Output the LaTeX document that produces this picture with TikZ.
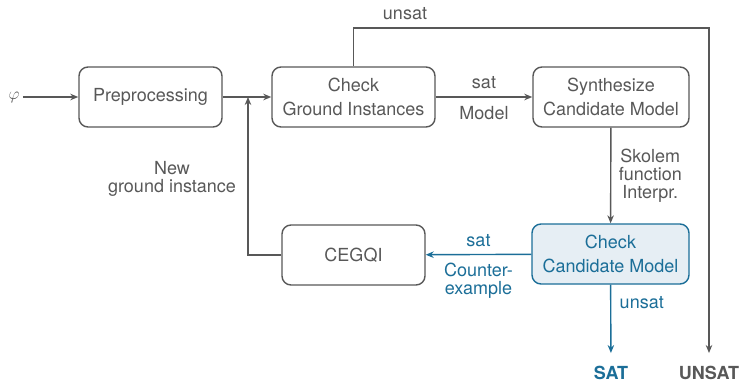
\RequirePackage{fix-cm}
\documentclass[tikz,border=0pt]{standalone}
\usepackage{fontspec}
\setmainfont{TeX Gyre Heros}
\usetikzlibrary{arrows.meta}
\definecolor{fggray}{HTML}{585858}
\definecolor{fgblue}{HTML}{1B6E98}
\definecolor{bgblue}{HTML}{E6EEF4}

\begin{document}
\begin{tikzpicture}[x=1pt, y=-1pt,
    font=\fontsize{18}{18}\selectfont,
    every node/.style={text=fggray},
    block/.style={draw=fggray, line width=1.4pt, rounded corners=9pt,
        minimum height=60pt, align=center, font=\fontsize{18}{24}\selectfont},
    bluebox/.style={draw=fgblue, fill=bgblue, text=fgblue},
    result/.style={font=\bfseries\fontsize{18}{18}\selectfont, inner ysep=13pt},
    flow/.style={draw=fggray, line width=1.4pt, -{Stealth[length=8pt,width=6.5pt]}},
    flowblue/.style={flow, draw=fgblue}]
    \useasboundingbox (0,0) rectangle (742,383);

    % Boxes
    \node[block, minimum width=143pt] (pre) at (150.5,97) {Preprocessing};
    \node[block, minimum width=163pt] (cgi) at (353.5,97) {Check\\Ground Instances};
    \node[block, minimum width=156pt] (syn) at (611,97) {Synthesize\\Candidate Model};
    \node[block, bluebox, minimum width=157pt] (ccm) at (610.5,254) {Check\\Candidate Model};
    \node[block, minimum width=143pt] (ceg) at (353.5,255) {CEGQI};

    % Inputs and results
    \node (phi) at (14,97) {\fontsize{17}{17}\selectfont$\varphi$};
    \node[result, text=fgblue] (sat) at (611,373) {SAT};
    \node[result] (unsat) at (709,373) {UNSAT};
    \coordinate (join) at (248,97);
    \coordinate (top) at (709,28);

    % Main flow
    \draw[flow] (phi) -- (pre);
    \draw[flow] (pre) -- (cgi);
    \draw[flow] (cgi) -- node[above=4pt] {sat} node[below=5pt] {Model} (syn);
    \draw[flow] (syn) -- node[right, xshift=4pt, align=center] {Skolem\\function\\Interpr.} (ccm);

    % Unsat path to the top
    \draw[flow] (cgi.north) |- (top) -- (unsat);
    \node (lblunsat) at (405,14) {unsat};

    % Counterexample loop
    \draw[flowblue] (ccm) -- node[above=4pt, text=fgblue] {sat}
        node[below=5pt, align=center, text=fgblue] {Counter-\\example} (ceg);
    \draw[flow] (ceg) -| (join);
    \node[align=center] (lblnew) at (172,179) {New\\ground instance};
    \draw[flowblue] (ccm) -- node[right, pos=0.26, xshift=5pt, text=fgblue] {unsat} (sat);

\end{tikzpicture}
\end{document}
